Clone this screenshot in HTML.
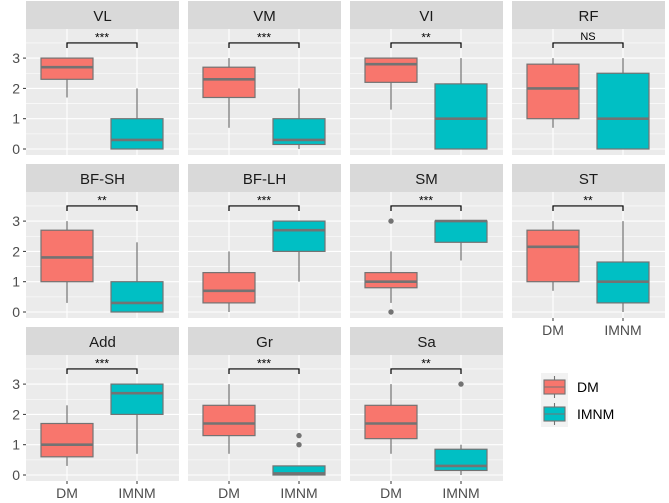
<!DOCTYPE html>
<html><head><meta charset="utf-8"><style>
body{margin:0;background:#fff;}
svg{display:block;font-family:"Liberation Sans",sans-serif;}
</style></head><body>
<svg id="chart" width="669" height="503" viewBox="0 0 669 503" xmlns="http://www.w3.org/2000/svg"></svg>
<script>
const facets = ["VL","VM","VI","RF","BF-SH","BF-LH","SM","ST","Add","Gr","Sa"];
const groups = ["DM","IMNM"];
const sig = ["***","***","**","NS","**","***","***","**","***","***","**"];
// [min, q1, median, q3, max]
const dmStats = [[1.7,2.3,2.7,3,3],[0.7,1.7,2.3,2.7,3],[1.3,2.2,2.8,3,3],[0.7,1,2,2.8,3],[0.3,1,1.8,2.7,3],[0,0.3,0.7,1.3,2],[0.3,0.8,1,1.3,2],[0.7,1,2.15,2.7,3],[0.3,0.6,1,1.7,2.3],[0.7,1.3,1.7,2.3,3],[0.7,1.2,1.7,2.3,3]];
const imnmStats = [[0,0,0.3,1,2],[0,0.15,0.3,1,2],[0,0,1,2.15,3],[0,0,1,2.5,3],[0,0,0.3,1,2.3],[1,2,2.7,3,3],[1.7,2.3,3,3,3],[0,0.3,1,1.65,3],[0.7,2,2.7,3,3],[0,0,0.05,0.3,0.3],[0,0.15,0.3,0.85,1]];
const dmOutliers = [[],[],[],[],[],[],[3,0],[],[],[],[]];
const imnmOutliers = [[],[],[],[],[],[],[],[],[],[1.3,1],[3]];
const yTicks = [0,1,2,3];
const colors = ["#F8766D","#00BFC4"];

const NS="http://www.w3.org/2000/svg";
const svg=document.getElementById('chart');
function mk(tag,attrs,parent){const e=document.createElementNS(NS,tag);for(const k in attrs)e.setAttribute(k,attrs[k]);(parent||svg).appendChild(e);return e;}
const colX=[26,188,350,512], PW=153, rowY=[1,164,327], SH=28, PH=126;
function ys(v,py){return py+120 - v*30.3;}
function xs(i,px){return px+41+i*70;}

facets.forEach((f,k)=>{
  const r=Math.floor(k/4), c=k%4;
  const px=colX[c], sy=rowY[r], py=sy+SH;
  const g=mk('g',{});
  
  
  const strip=mk('rect',{x:px,y:sy,width:PW,height:SH,fill:'#D9D9D9'},g);
  
  
  const st=mk('text',{x:px+PW/2,y:sy+20,'text-anchor':'middle','font-size':15,fill:'#1A1A1A'},g);
  st.textContent=f;
  
  
  mk('rect',{x:px,y:py,width:PW,height:PH,fill:'#EBEBEB'},g);
  for(let v=-0.5;v<=3.5;v+=0.5){
    const y=ys(v,py); if(y<py||y>py+PH)continue;
    mk('line',{x1:px,x2:px+PW,y1:y,y2:y,stroke:'#fff','stroke-width':Number.isInteger(v)?1.1:0.55},g);
  }
  groups.forEach((gr,i)=>mk('line',{x1:xs(i,px),x2:xs(i,px),y1:py,y2:py+PH,stroke:'#fff','stroke-width':1.1},g));
  const stats=[dmStats[k],imnmStats[k]], outs=[dmOutliers[k],imnmOutliers[k]];
  stats.forEach((s,i)=>{
    const x=xs(i,px);
    const b=mk('g',{},g);
    
    
    mk('line',{x1:x,x2:x,y1:ys(s[0],py),y2:ys(s[1],py),stroke:'#737373','stroke-width':1.2},b);
    mk('line',{x1:x,x2:x,y1:ys(s[3],py),y2:ys(s[4],py),stroke:'#737373','stroke-width':1.2},b);
    mk('rect',{x:x-26,y:ys(s[3],py),width:52,height:Math.max(0.5,ys(s[1],py)-ys(s[3],py)),fill:colors[i],stroke:'#737373','stroke-width':1.2},b);
    mk('line',{x1:x-26,x2:x+26,y1:ys(s[2],py),y2:ys(s[2],py),stroke:'#737373','stroke-width':2.6},b);
    outs[i].forEach(o=>{
      const p=mk('circle',{cx:x,cy:ys(o,py),r:2.7,fill:'#737373'},b);
      
      
    });
  });
  const by=ys(3.5,py);
  const br=mk('path',{d:`M${xs(0,px)},${by+5}V${by}H${xs(1,px)}V${by+5}`,fill:'none',stroke:'#000','stroke-width':1.2},g);
  
  
  const sl=mk('text',{x:(xs(0,px)+xs(1,px))/2,y:sig[k]==='NS'?by-3:by-1.5,'text-anchor':'middle','font-size':sig[k]==='NS'?11:12,fill:'#000'},g);
  sl.textContent=sig[k];
  
  
  if(c===0){
    yTicks.forEach(t=>{
      const y=ys(t,py);
      mk('line',{x1:px-3,x2:px,y1:y,y2:y,stroke:'#333','stroke-width':1},g);
      const tl=mk('text',{x:px-6,y:y+5,'text-anchor':'end','font-size':14,fill:'#4D4D4D'},g);
      tl.textContent=t;
      
      
    });
  }
  const lastInCol = (r===2) || (r===1 && c===3);
  if(lastInCol){
    groups.forEach((gr,i)=>{
      const x=xs(i,px);
      mk('line',{x1:x,x2:x,y1:py+PH,y2:py+PH+3,stroke:'#333','stroke-width':1},g);
      const xl=mk('text',{x:x,y:py+PH+17,'text-anchor':'middle','font-size':14,fill:'#4D4D4D'},g);
      xl.textContent=gr;
      
      
    });
  }
});
const lg=mk('g',{});


mk('rect',{x:541,y:373,width:27,height:54,fill:'#F2F2F2'},lg);
groups.forEach((gr,i)=>{
  const cy=387+i*27;
  const e=mk('g',{},lg);
  
  
  mk('line',{x1:554.5,x2:554.5,y1:cy-11,y2:cy+11,stroke:'#737373','stroke-width':1.1},e);
  mk('rect',{x:544,y:cy-7,width:21,height:14,fill:colors[i],stroke:'#737373','stroke-width':1.1},e);
  mk('line',{x1:544,x2:565,y1:cy,y2:cy,stroke:'#737373','stroke-width':1.1},e);
  const t=mk('text',{x:577,y:cy+5,'font-size':14,fill:'#000'},e);
  t.textContent=gr;
});
</script>
</body></html>
